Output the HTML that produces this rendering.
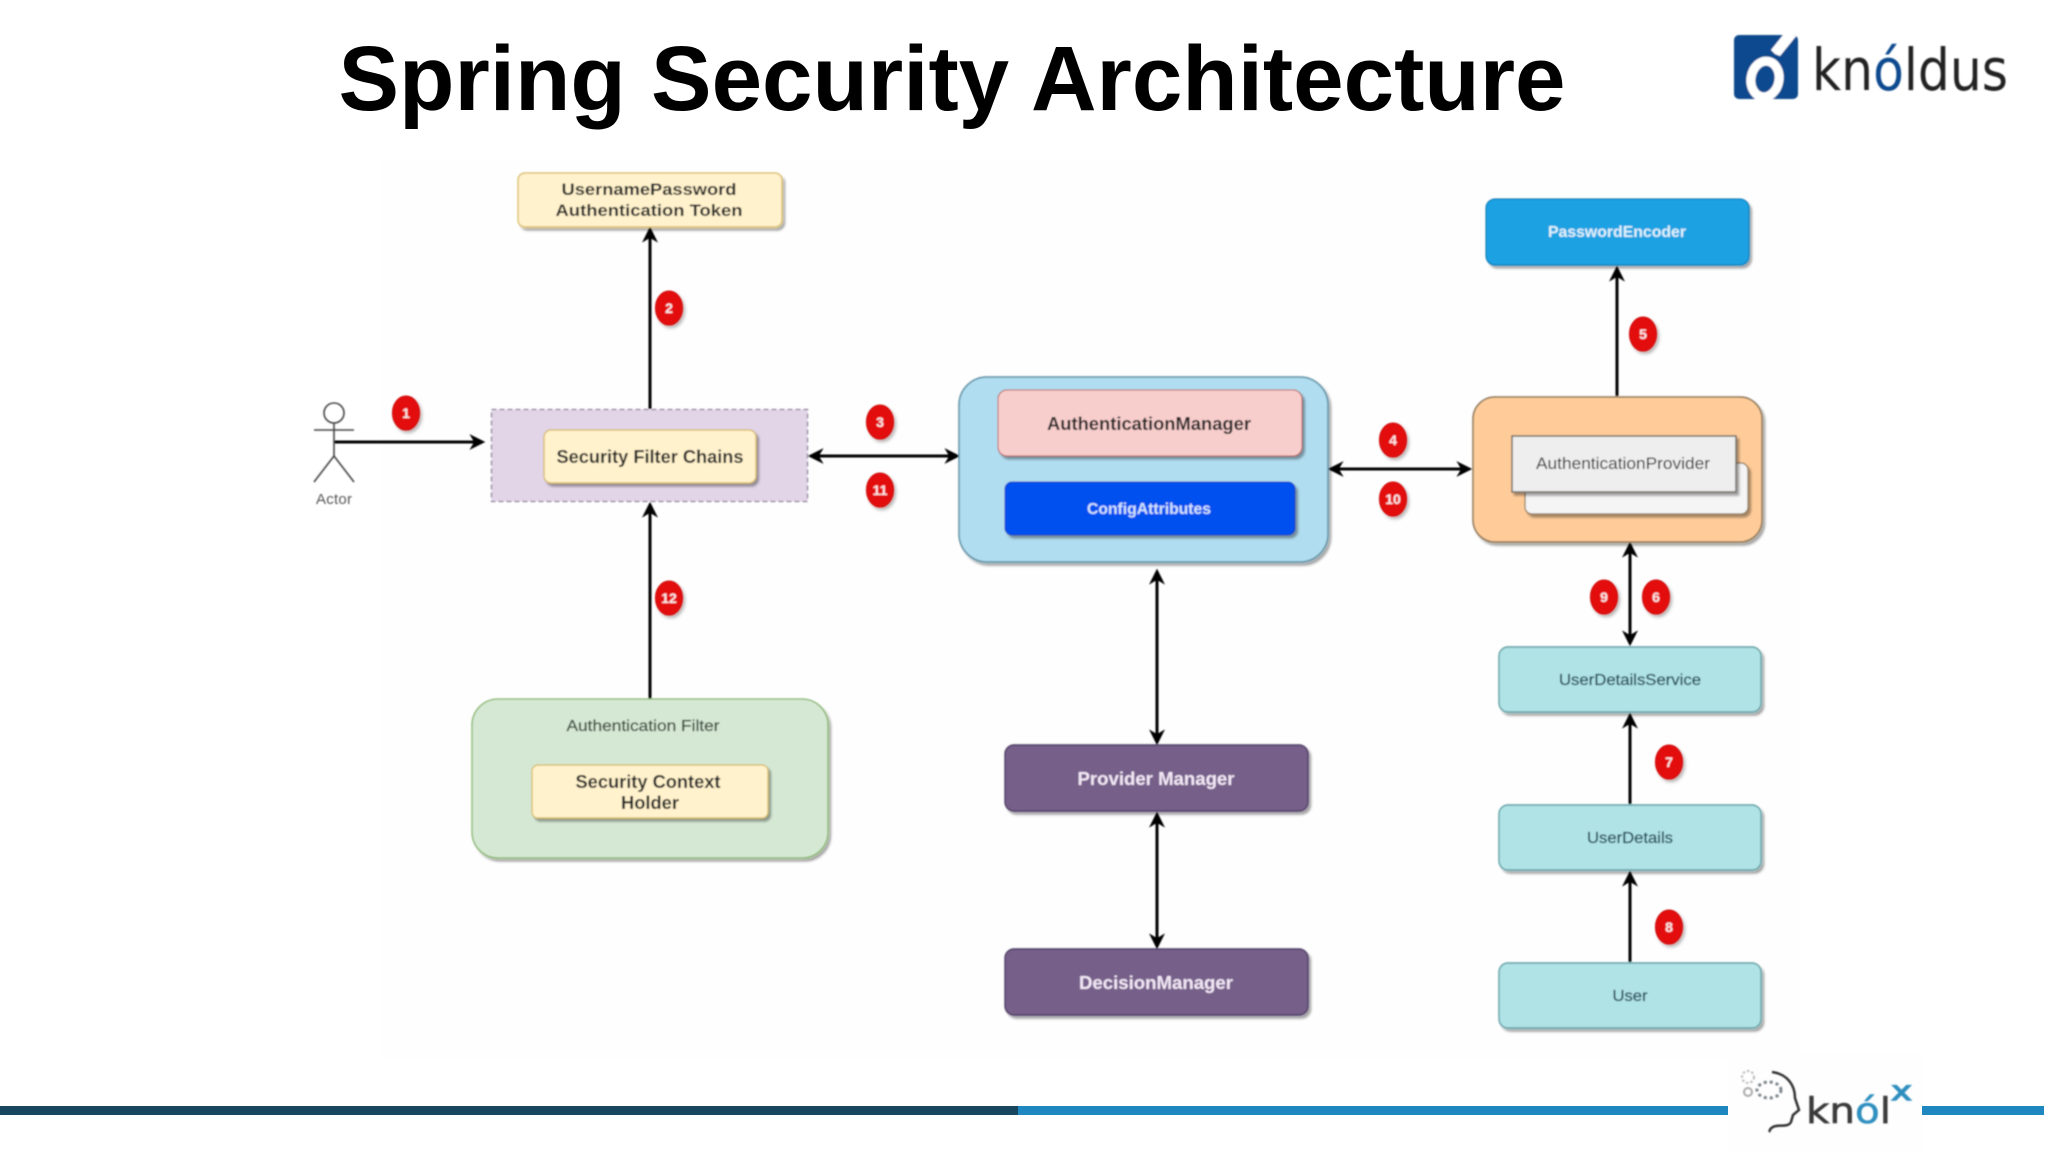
<!DOCTYPE html>
<html><head><meta charset="utf-8"><style>
html,body{margin:0;padding:0;background:#fff;width:2048px;height:1152px;overflow:hidden}
svg{display:block}
text{font-family:"Liberation Sans",sans-serif}
.b{font-weight:bold}
</style></head><body>
<svg width="2048" height="1152" viewBox="0 0 2048 1152" xmlns="http://www.w3.org/2000/svg">
<defs>
<filter id="s" x="-10%" y="-20%" width="125%" height="140%"><feDropShadow dx="2.5" dy="3" stdDeviation="1" flood-color="#000" flood-opacity=".35"/></filter>
<filter id="bs" x="-40%" y="-40%" width="190%" height="190%"><feDropShadow dx="2" dy="2.5" stdDeviation="1.5" flood-color="#000" flood-opacity=".3"/></filter>
<filter id="bl" x="-2%" y="-2%" width="104%" height="104%"><feGaussianBlur stdDeviation=".7"/></filter>
<filter id="bl2" x="-5%" y="-5%" width="110%" height="110%"><feGaussianBlur stdDeviation=".7"/></filter>
<marker id="a" viewBox="0 0 10 10" refX="7.3" refY="5" markerWidth="16" markerHeight="16" markerUnits="userSpaceOnUse" orient="auto-start-reverse"><path d="M10,5 L0,0 L3,5 L0,10 Z" fill="#000"/></marker>
<clipPath id="sq"><rect x="1734" y="35" width="64" height="64" rx="5"/></clipPath>
</defs>

<rect width="2048" height="1152" fill="#fff"/>
<rect x="380" y="160" width="1420" height="900" fill="#fefefe"/>

<text x="952" y="110" class="b" font-size="92" fill="#000" text-anchor="middle" textLength="1227" lengthAdjust="spacingAndGlyphs">Spring Security Architecture</text>

<!-- knoldus logo -->
<g filter="url(#bl2)">
<rect x="1734" y="35" width="64" height="64" rx="5" fill="#0b4a8e"/>
<g clip-path="url(#sq)">
<ellipse cx="1765" cy="79" rx="14" ry="18" fill="none" stroke="#fff" stroke-width="9" transform="rotate(10 1765 79)"/>
<polygon points="1783,35 1797,35 1780,56 1775,54 1771,50" fill="#fff"/>
</g>
<text x="1812" y="90" font-size="58" fill="#222" textLength="196" lengthAdjust="spacingAndGlyphs" style="font-family:'DejaVu Sans',sans-serif;font-weight:normal">kn<tspan fill="#0b4a8e">ó</tspan>ldus</text>
</g>

<g filter="url(#bl)">
<!-- connector lines -->
<g stroke="#000" stroke-width="3" fill="none" marker-end="url(#a)">
<line x1="334" y1="442" x2="481" y2="442"/>
<line x1="650" y1="409" x2="650" y2="231"/>
<line x1="650" y1="699" x2="650" y2="506"/>
<line x1="1617" y1="396" x2="1617" y2="270"/>
<line x1="1630" y1="804" x2="1630" y2="717"/>
<line x1="1630" y1="962" x2="1630" y2="875"/>
<line x1="812" y1="456" x2="956" y2="456" marker-start="url(#a)"/>
<line x1="1332" y1="469" x2="1468" y2="469" marker-start="url(#a)"/>
<line x1="1630" y1="546" x2="1630" y2="642" marker-start="url(#a)"/>
<line x1="1157" y1="573" x2="1157" y2="741" marker-start="url(#a)"/>
<line x1="1157" y1="816" x2="1157" y2="945" marker-start="url(#a)"/>
</g>

<!-- actor -->
<g stroke="#444" stroke-width="1.6" fill="none">
<circle cx="334" cy="413" r="10"/>
<line x1="334" y1="423" x2="334" y2="456"/>
<line x1="314" y1="430" x2="354" y2="430"/>
<line x1="334" y1="456" x2="314" y2="482"/>
<line x1="334" y1="456" x2="354" y2="482"/>
</g>
<text x="334" y="504" font-size="15" fill="#555" text-anchor="middle" textLength="36">Actor</text>

<!-- boxes -->
<rect x="518" y="173" width="264" height="54" rx="7" fill="#fff2cc" stroke="#d6b656" stroke-width="1.2" filter="url(#s)"/>
<text x="649" y="195" class="b" font-size="17" fill="#222" text-anchor="middle" textLength="175" lengthAdjust="spacingAndGlyphs">UsernamePassword</text>
<text x="649" y="216" class="b" font-size="17" fill="#222" text-anchor="middle" textLength="187" lengthAdjust="spacingAndGlyphs">Authentication Token</text>

<rect x="491.500" y="409.500" width="316" height="92" fill="#e1d5e7" stroke="#8f7f99" stroke-width="1.3" stroke-dasharray="5 3"/>
<rect x="544" y="430" width="212" height="53" rx="7" fill="#fff2cc" stroke="#d6b656" stroke-width="1.2" filter="url(#s)"/>
<text x="650" y="463" class="b" font-size="18" fill="#222" text-anchor="middle" textLength="187" lengthAdjust="spacingAndGlyphs">Security Filter Chains</text>

<rect x="472" y="699" width="356" height="159" rx="26" fill="#d5e8d4" stroke="#82b366" stroke-width="1.3" filter="url(#s)"/>
<text x="643" y="731" class="b" font-size="16" fill="#3c4a3c" text-anchor="middle" textLength="153" lengthAdjust="spacingAndGlyphs" style="font-weight:normal;stroke:#3c4a3c;stroke-width:.3">Authentication Filter</text>
<rect x="532" y="765" width="236" height="53" rx="6" fill="#fff2cc" stroke="#d6b656" stroke-width="1.2" filter="url(#s)"/>
<text x="648" y="788" class="b" font-size="18" fill="#222" text-anchor="middle" textLength="145" lengthAdjust="spacingAndGlyphs">Security Context</text>
<text x="650" y="809" class="b" font-size="18" fill="#222" text-anchor="middle" textLength="58" lengthAdjust="spacingAndGlyphs">Holder</text>

<rect x="959" y="377" width="369" height="185" rx="28" fill="#b1ddf0" stroke="#5b8ea3" stroke-width="1.5" filter="url(#s)"/>
<rect x="998" y="390" width="304" height="66" rx="9" fill="#f8cecc" stroke="#b85450" stroke-width="1" filter="url(#s)"/>
<text x="1149" y="430" class="b" font-size="18" fill="#222" text-anchor="middle" textLength="204" lengthAdjust="spacingAndGlyphs">AuthenticationManager</text>
<rect x="1005" y="482" width="290" height="53" rx="7" fill="#0050ef" stroke="#0a3ec0" stroke-width="1" filter="url(#s)"/>
<text x="1149" y="514" class="b" font-size="16" fill="#cfe2ff" text-anchor="middle" textLength="124" lengthAdjust="spacingAndGlyphs">ConfigAttributes</text>

<rect x="1473" y="397" width="289" height="145" rx="22" fill="#ffcc99" stroke="#8a7355" stroke-width="1.5" filter="url(#s)"/>
<rect x="1525" y="463" width="223" height="51" rx="7" fill="#f5f5f5" stroke="#8a7355" stroke-width="1.2" filter="url(#s)"/>
<rect x="1512" y="436" width="224" height="56" fill="#eeeeee" stroke="#6f6a63" stroke-width="1.5" filter="url(#s)"/>
<text x="1623" y="469" font-size="17" fill="#222" text-anchor="middle" textLength="174" lengthAdjust="spacingAndGlyphs">AuthenticationProvider</text>

<rect x="1486" y="199" width="263" height="66" rx="9" fill="#1ba1e2" stroke="#006eaf" stroke-width="1" filter="url(#s)"/>
<text x="1617" y="237" class="b" font-size="16" fill="#dff2fc" text-anchor="middle" textLength="138" lengthAdjust="spacingAndGlyphs">PasswordEncoder</text>

<g fill="#b0e3e6" stroke="#5f9ea3" stroke-width="1.4" filter="url(#s)">
<rect x="1499" y="647" width="262" height="65" rx="9"/>
<rect x="1499" y="805" width="262" height="65" rx="9"/>
<rect x="1499" y="963" width="262" height="65" rx="9"/>
</g>
<g font-size="16" fill="#1f4a57" text-anchor="middle" style="stroke:#1f4a57;stroke-width:.3">
<text x="1630" y="685" textLength="142" lengthAdjust="spacingAndGlyphs">UserDetailsService</text>
<text x="1630" y="843" textLength="86" lengthAdjust="spacingAndGlyphs">UserDetails</text>
<text x="1630" y="1001" textLength="35" lengthAdjust="spacingAndGlyphs">User</text>
</g>

<g fill="#76608a" stroke="#4d3c63" stroke-width="1.4" filter="url(#s)">
<rect x="1005" y="745" width="303" height="66" rx="9"/>
<rect x="1005" y="949" width="303" height="66" rx="9"/>
</g>
<text x="1156" y="785" class="b" font-size="18" fill="#f3e8f6" text-anchor="middle" textLength="157" lengthAdjust="spacingAndGlyphs">Provider Manager</text>
<text x="1156" y="989" class="b" font-size="18" fill="#f3e8f6" text-anchor="middle" textLength="154" lengthAdjust="spacingAndGlyphs">DecisionManager</text>

<!-- badges -->
<g fill="#e30c0c" stroke="#c00" stroke-width="1" filter="url(#bs)">
<ellipse cx="406" cy="413" rx="13.500" ry="17"/>
<ellipse cx="669" cy="308" rx="13.500" ry="17"/>
<ellipse cx="880" cy="422" rx="13.500" ry="17"/>
<ellipse cx="880" cy="490" rx="13.500" ry="17"/>
<ellipse cx="669" cy="598" rx="13.500" ry="17"/>
<ellipse cx="1393" cy="440" rx="13.500" ry="17"/>
<ellipse cx="1393" cy="499" rx="13.500" ry="17"/>
<ellipse cx="1643" cy="334" rx="13.500" ry="17"/>
<ellipse cx="1604" cy="597" rx="13.500" ry="17"/>
<ellipse cx="1656" cy="597" rx="13.500" ry="17"/>
<ellipse cx="1669" cy="762" rx="13.500" ry="17"/>
<ellipse cx="1669" cy="927" rx="13.500" ry="17"/>
</g>
<g class="b" font-size="14" fill="#fdeaea" text-anchor="middle" font-weight="bold">
<text x="406" y="418">1</text>
<text x="669" y="313">2</text>
<text x="880" y="427">3</text>
<text x="880" y="495">11</text>
<text x="669" y="603">12</text>
<text x="1393" y="445">4</text>
<text x="1393" y="504">10</text>
<text x="1643" y="339">5</text>
<text x="1604" y="602">9</text>
<text x="1656" y="602">6</text>
<text x="1669" y="767">7</text>
<text x="1669" y="932">8</text>
</g>
</g>

<!-- footer -->
<rect x="0" y="1106" width="1018" height="9" fill="#17465e"/>
<rect x="1018" y="1106" width="710" height="9" fill="#1f87c0"/>
<rect x="1922" y="1106" width="122" height="9" fill="#1f87c0"/>
<rect x="1728" y="1052" width="194" height="100" fill="#fefefe"/>
<g filter="url(#bl2)">
<circle cx="1748" cy="1077" r="6" fill="none" stroke="#bbb" stroke-width="2" stroke-dasharray="2.500 2"/>
<circle cx="1748" cy="1092" r="4" fill="none" stroke="#aaa" stroke-width="2"/>
<ellipse cx="1769" cy="1090" rx="12" ry="8" fill="none" stroke="#7d868c" stroke-width="3" stroke-dasharray="3 3"/>
<path d="M1772,1072 C1788,1074 1795,1086 1795,1098 L1799,1110 L1793,1115 L1791,1122 C1788,1128 1778,1124 1773,1127 C1769,1129 1770,1131 1769,1132" fill="none" stroke="#333" stroke-width="2.500"/>
<text x="1806" y="1123" font-size="36" fill="#3a3a3a" textLength="85" lengthAdjust="spacingAndGlyphs" style="font-family:'DejaVu Sans',sans-serif;stroke:#3a3a3a;stroke-width:.6">kn<tspan fill="#2f8fbf" style="stroke:#2f8fbf">ó</tspan>l</text>
<text x="1891" y="1100" font-size="27" fill="#2f8fbf" textLength="21" lengthAdjust="spacingAndGlyphs" style="font-family:'DejaVu Sans',sans-serif;stroke:#2f8fbf;stroke-width:1.2">x</text>
</g>
</svg>
</body></html>
